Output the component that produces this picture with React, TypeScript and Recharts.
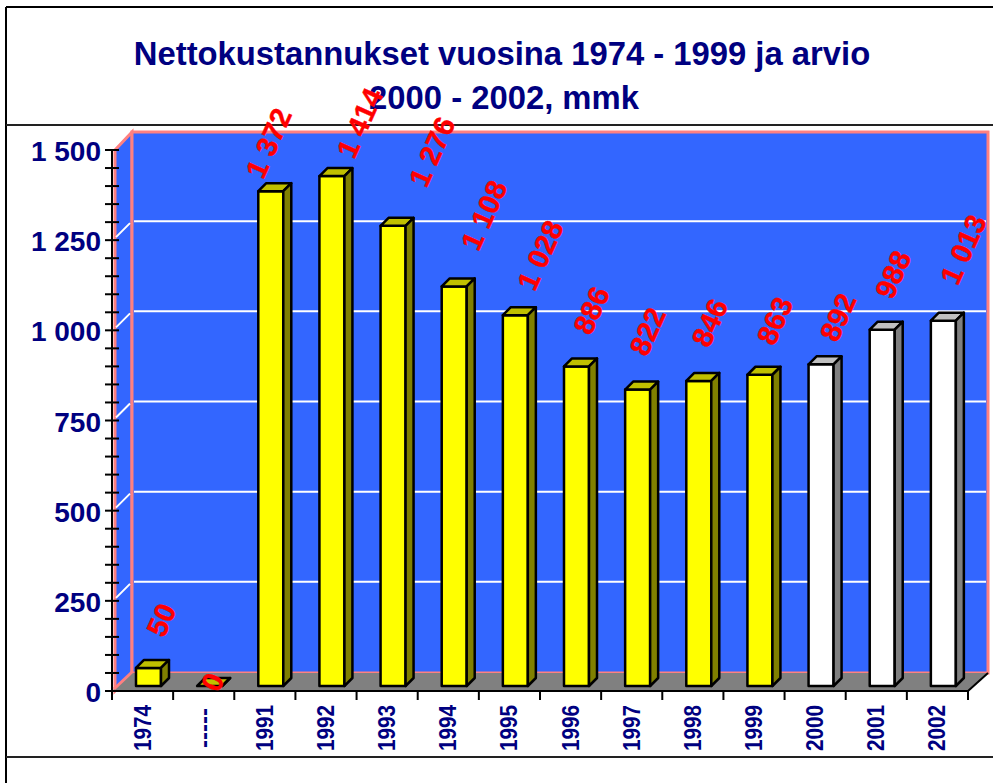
import React from 'react';
import { BarChart, Bar, XAxis, YAxis, ReferenceLine, LabelList, Customized } from 'recharts';

const years = ['1974', '-----', '1991', '1992', '1993', '1994', '1995', '1996', '1997', '1998', '1999', '2000', '2001', '2002'];
const netCosts = [50, 0, 1372, 1414, 1276, 1108, 1028, 886, 822, 846, 863, 892, 988, 1013];
const estimateYears = ['2000', '2001', '2002'];
const yTicks = [0, 50, 100, 150, 200, 250, 300, 350, 400, 450, 500, 550, 600, 650, 700, 750, 800, 850, 900, 950, 1000, 1050, 1100, 1150, 1200, 1250, 1300, 1350, 1400, 1450, 1500];
const labelledTicks = [0, 250, 500, 750, 1000, 1250, 1500];
const gridValues = [250, 500, 750, 1000, 1250];
const titleLines = ['Nettokustannukset vuosina 1974 - 1999 ja arvio', '2000 - 2002, mmk'];

// the original labels were dragged around by hand, so each has its own nudge
const labelNudgeX = [13, 3, -2, 28, 39, 30, 25, 15, 10, 11, 15, 17, 11, 20];
const labelNudgeY = [-48, -4, -48, -53, -74, -71, -60, -56, -58, -58, -54, -47, -55, -71];

const data = years.map((year, i) => ({ year, cost: netCosts[i], estimate: estimateYears.includes(year) }));

const NAVY = '#000080';
const BLUE = '#3366FF';
const PINK = '#FF8080';
const LEFT = 112;
const RIGHT = 968;
const TOP = 150;
const BOTTOM = 691;
const WALL_DX = 20;
const WALL_DY = 18;
const BAR_DX = 6;
const BAR_DY = 5;
const BAR_DEPTH = 8;
const BAND = (RIGHT - LEFT) / years.length;
const FONT = '"Liberation Sans", Arial, sans-serif';

const spaced = (v: number) => String(v).replace(/\B(?=(\d{3})+$)/g, ' ');

const Frame = () => (
	<g>
		<polygon points={`${LEFT + 3},${TOP} ${LEFT + WALL_DX},${TOP - WALL_DY} ${LEFT + WALL_DX},${BOTTOM - WALL_DY} ${LEFT + 3},${BOTTOM}`} fill={BLUE} stroke={PINK} strokeWidth={3} />
		<rect x={LEFT + WALL_DX} y={TOP - WALL_DY} width={RIGHT - LEFT} height={BOTTOM - TOP} fill={BLUE} stroke={PINK} strokeWidth={3} />
		<polygon points={`${LEFT},${BOTTOM} ${RIGHT},${BOTTOM} ${RIGHT + WALL_DX},${BOTTOM - WALL_DY} ${LEFT + WALL_DX},${BOTTOM - WALL_DY}`} fill="#808080" />
		<line x1={RIGHT} y1={BOTTOM} x2={RIGHT + WALL_DX} y2={BOTTOM - WALL_DY} stroke="#000" strokeWidth={2} />
		<line x1={LEFT + 2} y1={BOTTOM - 2} x2={LEFT + WALL_DX} y2={BOTTOM - WALL_DY - 1} stroke={PINK} strokeWidth={3} />
		<line x1={6} y1={7} x2={6} y2={783} stroke="#000" strokeWidth={2} />
		<line x1={6} y1={7} x2={993} y2={7} stroke="#000" strokeWidth={2} />
		<line x1={6} y1={125} x2={993} y2={125} stroke="#222" strokeWidth={2} />
		<line x1={6} y1={757} x2={993} y2={757} stroke="#222" strokeWidth={2} />
		{titleLines.map((line, i) => (
			<text key={line} x={502 + i * 2} y={65 + i * 44} textAnchor="middle" fontFamily={FONT} fontWeight="bold" fontSize={32.8} fill={NAVY}>
				{line}
			</text>
		))}
	</g>
);

const WallGridLine = (props: any) => {
	const { x1, y1, x2, y2 } = props;
	const backY1 = y1 - WALL_DY - 1;
	const backY2 = y2 - WALL_DY - 1;
	return (
		<path
			d={`M${x1 + 4},${y1 - 3} L${x1 + WALL_DX - 2},${backY1 + 2} M${x1 + WALL_DX + 2},${backY1} L${x2 + WALL_DX - 2},${backY2}`}
			fill="none"
			stroke="#fff"
			strokeWidth={2}
		/>
	);
};

const YTick = ({ y, payload }: any) => (
	<g>
		<line x1={LEFT - 7} x2={LEFT + 7} y1={y} y2={y} stroke="#000" strokeWidth={2} />
		{labelledTicks.includes(payload.value) && (
			<text x={101} y={y} dy={11} textAnchor="end" fontFamily={FONT} fontWeight="bold" fontSize={28} fill={NAVY}>
				{spaced(payload.value)}
			</text>
		)}
	</g>
);

const XTick = ({ x, payload, index }: any) => (
	<g>
		<line x1={x - BAND / 2} x2={x - BAND / 2} y1={BOTTOM} y2={BOTTOM + 9} stroke="#000" strokeWidth={2} />
		{index === years.length - 1 && <line x1={x + BAND / 2} x2={x + BAND / 2} y1={BOTTOM} y2={BOTTOM + 9} stroke="#000" strokeWidth={2} />}
		<text
			transform={`rotate(-90 ${x} ${BOTTOM + 37})`}
			x={x}
			y={BOTTOM + 37}
			dy={8}
			textAnchor="middle"
			fontFamily={FONT}
			fontWeight="bold"
			fontSize={24}
			fill={NAVY}
			{...(/\d/.test(payload.value) ? { textLength: 46, lengthAdjust: 'spacingAndGlyphs' } : {})}
		>
			{payload.value}
		</text>
	</g>
);

const Bar3D = (props: any) => {
	const { x, y, width, height, payload } = props;
	const left = x + BAR_DX;
	const right = left + width;
	const top = y - BAR_DY;
	const bottom = top + height;
	const faces = payload.estimate ? ['#FFFFFF', '#C0C0C0', '#808080'] : ['#FFFF00', '#C0C000', '#808000'];
	return (
		<g stroke="#000" strokeWidth={2.5} strokeLinejoin="round">
			<rect x={left} y={top} width={width} height={height} fill={faces[0]} />
			<polygon points={`${left},${top} ${right},${top} ${right + BAR_DEPTH},${top - BAR_DEPTH} ${left + BAR_DEPTH},${top - BAR_DEPTH}`} fill={faces[1]} />
			<polygon points={`${right},${top} ${right + BAR_DEPTH},${top - BAR_DEPTH} ${right + BAR_DEPTH},${bottom - BAR_DEPTH} ${right},${bottom}`} fill={faces[2]} />
		</g>
	);
};

const BarLabel = (props: any) => {
	const { x, y, width, value, index } = props;
	const cx = x + width / 2 + BAR_DX + labelNudgeX[index];
	const cy = y - BAR_DY + labelNudgeY[index];
	return (
		<text x={cx} y={cy} transform={`rotate(-66 ${cx} ${cy})`} textAnchor="middle" dominantBaseline="central" fontFamily={FONT} fontWeight="bold" fontSize={29} fill="#FF0000" stroke="#FF0000" strokeWidth={0.4}>
			{spaced(value)}
		</text>
	);
};

const App = () => (
	<div style={{ position: 'absolute', left: 0, top: 0, background: '#fff' }}>
		<BarChart width={993} height={783} data={data} margin={{ top: TOP, right: 993 - RIGHT, left: 0, bottom: 0 }} barSize={25}>
			<Customized component={Frame} />
			<XAxis dataKey="year" height={783 - BOTTOM} stroke="#000" strokeWidth={2} tickLine={false} interval={0} tick={XTick} />
			<YAxis width={LEFT} domain={[0, 1500]} ticks={yTicks} interval={0} stroke="#000" strokeWidth={2} tickLine={false} tick={YTick} />
			{gridValues.map((v) => (
				<ReferenceLine key={v} y={v} shape={WallGridLine} zIndex={100} />
			))}
			<Bar dataKey="cost" isAnimationActive={false} shape={Bar3D}>
				<LabelList dataKey="cost" content={BarLabel} />
			</Bar>
		</BarChart>
	</div>
);

export default App;
